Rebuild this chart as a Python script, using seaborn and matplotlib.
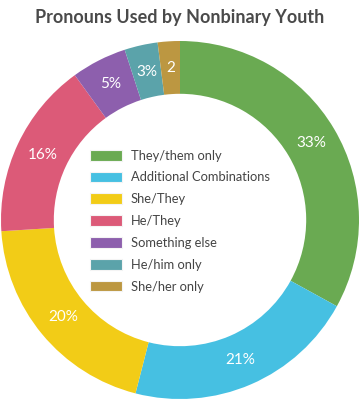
import matplotlib
matplotlib.use("Agg")
import matplotlib.pyplot as plt
import matplotlib.patches as mpatches
import seaborn as sns
import numpy as np

labels = ["They/them only", "Additional Combinations", "She/They", "He/They",
          "Something else", "He/him only", "She/her only"]
values = [33, 21, 20, 16, 5, 3, 2]
pct_text = ["33%", "21%", "20%", "16%", "5%", "3%", "2"]
colors = ["#6aaa52", "#46c0e2", "#f2cc17", "#dc5a78", "#8d5fad", "#5ba3aa", "#bc9741"]

sns.set_theme(style="white")
plt.rcParams["font.family"] = ["Lato", "DejaVu Sans"]

fig = plt.figure(figsize=(3.6, 4.0), dpi=100)
ax = fig.add_axes([1 / 360, 1 / 400, 358 / 360, 358 / 400])

wedges, _ = ax.pie(values, colors=colors, startangle=90, counterclock=False,
                   radius=1.0, wedgeprops=dict(width=0.295, edgecolor="none"))
# percentage labels in the middle of the ring
for w, t in zip(wedges, pct_text):
    ang = np.deg2rad((w.theta1 + w.theta2) / 2)
    r = 0.85
    ax.text(r * np.cos(ang), r * np.sin(ang), t, ha="center", va="center",
            color="white", fontsize=11)
ax.set_aspect("equal")
ax.set_xlim(-1, 1)
ax.set_ylim(-1, 1)
ax.axis("off")

handles = [mpatches.Patch(facecolor=c, edgecolor="#f4f4f4", linewidth=0.8, label=l)
           for c, l in zip(colors, labels)]
leg = fig.legend(handles=handles, loc="upper left", bbox_to_anchor=(78 / 360, 1 - 138 / 400),
                 frameon=False, fontsize=9.3, handlelength=2.5, handleheight=0.9,
                 labelspacing=0.76, handletextpad=0.7, labelcolor="#444444")

fig.text(0.5, 1 - 18 / 400, "Pronouns Used by Nonbinary Youth", ha="center", va="center",
         fontsize=13, fontweight="bold", color="#4a4a4a")

fig.savefig("out.png", dpi=100)
